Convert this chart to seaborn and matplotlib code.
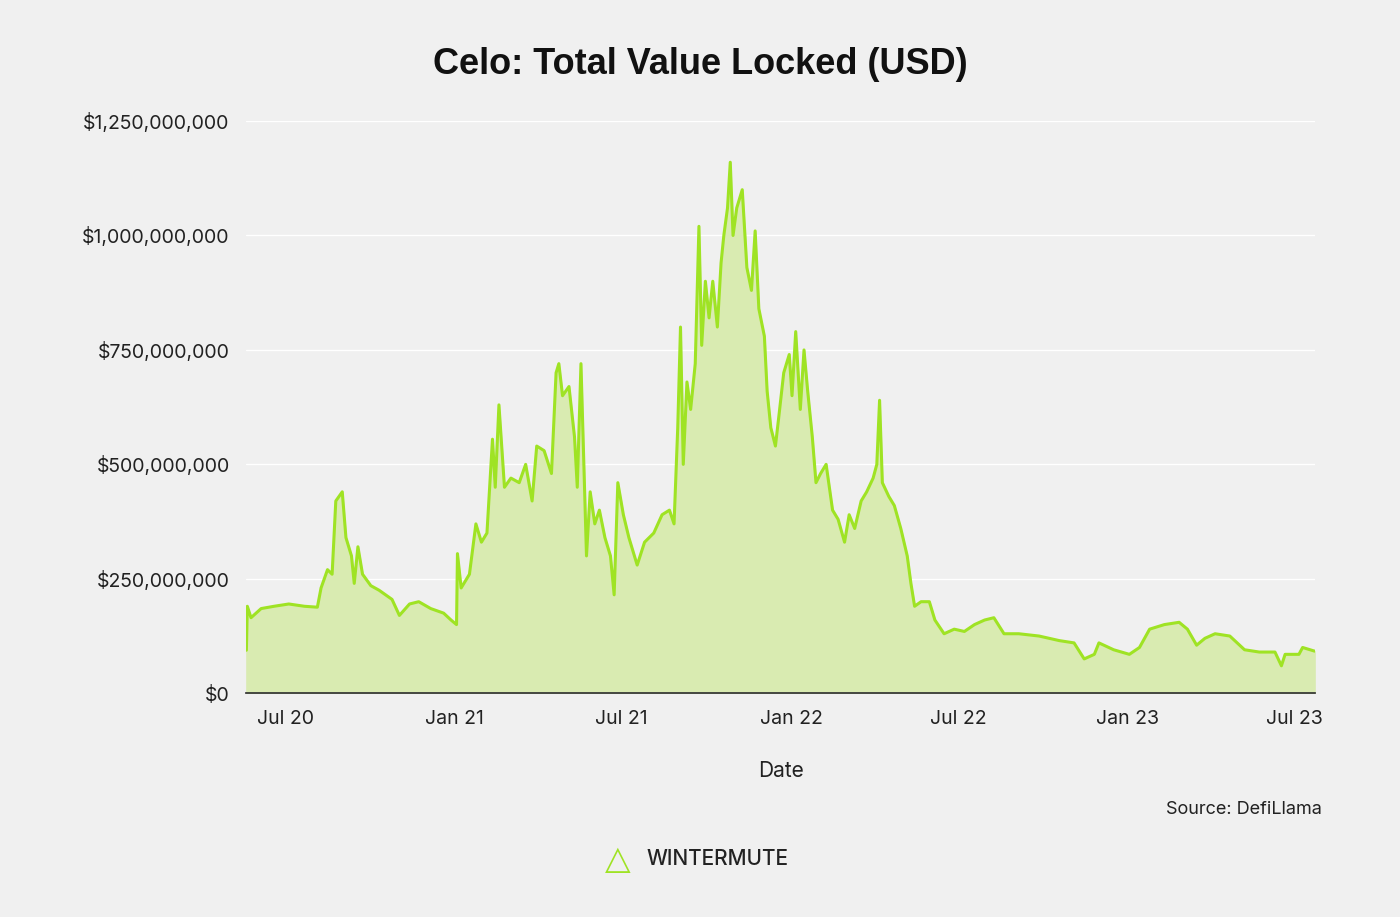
import matplotlib
matplotlib.use("Agg")
import matplotlib.pyplot as plt
import pandas as pd
import seaborn as sns
from matplotlib.ticker import FuncFormatter

sns.set_theme(style="white", rc={"font.family": "Inter"})

dates = [
    "2020-05-20", "2020-05-21", "2020-05-25", "2020-06-05", "2020-06-19", "2020-07-05",
    "2020-07-22", "2020-08-05", "2020-08-09", "2020-08-16", "2020-08-21", "2020-08-25",
    "2020-09-01", "2020-09-05", "2020-09-11", "2020-09-14", "2020-09-18", "2020-09-23",
    "2020-10-02", "2020-10-11", "2020-10-25", "2020-11-02", "2020-11-13", "2020-11-23",
    "2020-12-06", "2020-12-20", "2020-12-28", "2021-01-03", "2021-01-04", "2021-01-08",
    "2021-01-17", "2021-01-24", "2021-01-30", "2021-02-05", "2021-02-11", "2021-02-14",
    "2021-02-18", "2021-02-24", "2021-03-03", "2021-03-12", "2021-03-19", "2021-03-26",
    "2021-03-31", "2021-04-08", "2021-04-16", "2021-04-21", "2021-04-24", "2021-04-28",
    "2021-05-05", "2021-05-11", "2021-05-14", "2021-05-18", "2021-05-24", "2021-05-28",
    "2021-06-02", "2021-06-07", "2021-06-13", "2021-06-19", "2021-06-23", "2021-06-27",
    "2021-07-03", "2021-07-09", "2021-07-18", "2021-07-26", "2021-08-05", "2021-08-14",
    "2021-08-22", "2021-08-27", "2021-08-31", "2021-09-03", "2021-09-06", "2021-09-10",
    "2021-09-14", "2021-09-19", "2021-09-23", "2021-09-26", "2021-09-30", "2021-10-04",
    "2021-10-08", "2021-10-13", "2021-10-17", "2021-10-20", "2021-10-24", "2021-10-27",
    "2021-10-30", "2021-11-03", "2021-11-09", "2021-11-14", "2021-11-19", "2021-11-23",
    "2021-11-27", "2021-12-03", "2021-12-06", "2021-12-10", "2021-12-15", "2021-12-19",
    "2021-12-24", "2021-12-30", "2022-01-02", "2022-01-06", "2022-01-11", "2022-01-15",
    "2022-01-19", "2022-01-24", "2022-01-28", "2022-02-02", "2022-02-08", "2022-02-15",
    "2022-02-21", "2022-02-28", "2022-03-05", "2022-03-11", "2022-03-18", "2022-03-24",
    "2022-03-31", "2022-04-04", "2022-04-07", "2022-04-10", "2022-04-17", "2022-04-23",
    "2022-04-30", "2022-05-07", "2022-05-11", "2022-05-15", "2022-05-22", "2022-05-31",
    "2022-06-06", "2022-06-16", "2022-06-27", "2022-07-08", "2022-07-19", "2022-07-30",
    "2022-08-09", "2022-08-20", "2022-09-05", "2022-09-27", "2022-10-19", "2022-11-04",
    "2022-11-15", "2022-11-26", "2022-12-01", "2022-12-17", "2023-01-03", "2023-01-14",
    "2023-01-25", "2023-02-10", "2023-02-26", "2023-03-07", "2023-03-17", "2023-03-26",
    "2023-04-06", "2023-04-22", "2023-05-08", "2023-05-24", "2023-06-10", "2023-06-17",
    "2023-06-21", "2023-07-06", "2023-07-10", "2023-07-23",
]
tvl_millions = [
    94, 190, 165, 185, 190, 195,
    190, 188, 230, 270, 260, 420,
    440, 340, 300, 240, 320, 260,
    235, 225, 205, 170, 195, 200,
    185, 175, 160, 150, 305, 230,
    260, 370, 330, 350, 555, 450,
    630, 450, 470, 460, 500, 420,
    540, 530, 480, 700, 720, 650,
    670, 560, 450, 720, 300, 440,
    370, 400, 340, 300, 215, 460,
    390, 340, 280, 330, 350, 390,
    400, 370, 580, 800, 500, 680,
    620, 720, 1020, 760, 900, 820,
    900, 800, 940, 1000, 1060, 1160,
    1000, 1060, 1100, 930, 880, 1010,
    840, 780, 660, 580, 540, 610,
    700, 740, 650, 790, 620, 750,
    660, 560, 460, 480, 500, 400,
    380, 330, 390, 360, 420, 440,
    470, 500, 640, 460, 430, 410,
    360, 300, 240, 190, 200, 200,
    160, 130, 140, 135, 150, 160,
    165, 130, 130, 125, 115, 110,
    75, 85, 110, 95, 85, 100,
    140, 150, 155, 140, 105, 120,
    130, 125, 95, 90, 90, 60,
    85, 85, 100, 92,
]
tick_dates = ["2020-07-01", "2021-01-01", "2021-07-01", "2022-01-01",
              "2022-07-01", "2023-01-01", "2023-07-01"]
tick_labels = ["Jul 20", "Jan 21", "Jul 21", "Jan 22", "Jul 22", "Jan 23", "Jul 23"]

df = pd.DataFrame({"date": pd.to_datetime(dates), "tvl": [v * 1e6 for v in tvl_millions]})

BG = "#f0f0f0"
LINE = "#9fe324"
FILL = "#d9ebb1"

fig = plt.figure(figsize=(14, 9.17), dpi=100, facecolor=BG)
ax = fig.add_axes([0.176, 0.244, 0.763, 0.624], facecolor=BG)

ax.fill_between(df["date"], df["tvl"], color=FILL, zorder=1)
sns.lineplot(data=df, x="date", y="tvl", color=LINE, linewidth=2.2, ax=ax, zorder=2)

ax.set_xlim(df["date"].iloc[0], df["date"].iloc[-1])
ax.set_ylim(0, 1.25e9)
ax.set_yticks([0, 2.5e8, 5e8, 7.5e8, 1e9, 1.25e9])
ax.yaxis.set_major_formatter(FuncFormatter(lambda v, _: f"${v:,.0f}"))
ax.set_xticks(pd.to_datetime(tick_dates))
ax.set_xticklabels(tick_labels)
ax.tick_params(axis="both", labelsize=14, colors="#222222", length=0, pad=12)
ax.grid(axis="y", color="#ffffff", linewidth=1)
ax.set_axisbelow(True)
for side in ["top", "right", "left"]:
    ax.spines[side].set_visible(False)
ax.spines["bottom"].set_color("#333333")
ax.set_ylabel("")
ax.set_xlabel("Date", fontsize=15, color="#222222", labelpad=24)

fig.text(0.5, 0.93, "Celo: Total Value Locked (USD)", ha="center", va="center",
         fontsize=26, fontweight="bold", color="#111111", family="Liberation Sans")
fig.text(0.944, 0.117, "Source: DefiLlama", ha="right", va="center", fontsize=13, color="#222222")
fig.text(0.462, 0.063, "WINTERMUTE", ha="left", va="center", fontsize=15,
         color="#222222", fontweight="medium")
fig.text(0.441, 0.063, "\u25B3", ha="center", va="center", fontsize=24, color=LINE,
         family="DejaVu Sans")

fig.savefig("out.png", dpi=100, facecolor=BG)
